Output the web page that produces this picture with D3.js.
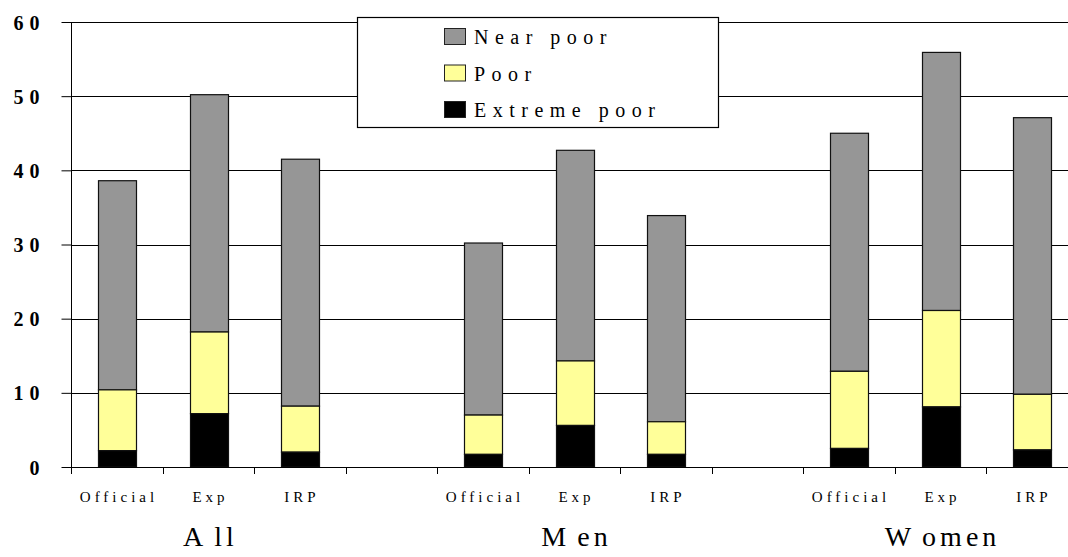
<!DOCTYPE html>
<html><head><meta charset="utf-8">
<script src="https://cdn.jsdelivr.net/npm/d3@7"></script>
<style>body{margin:0;background:#fff}svg{display:block}</style>
</head><body><svg id="c" width="1068" height="557" style="font-family:'Liberation Serif','Times New Roman',Tinos,'DejaVu Serif',serif"></svg>
<script>
const slots = ["All|Official","All|Exp","All|IRP","gap1","Men|Official","Men|Exp","Men|IRP","gap2","Women|Official","Women|Exp","Women|IRP"];
const categories = ["All|Official","All|Exp","All|IRP","Men|Official","Men|Exp","Men|IRP","Women|Official","Women|Exp","Women|IRP"];
const catLabels = ["Official","Exp","IRP","Official","Exp","IRP","Official","Exp","IRP"];
const groups = ["All","Men","Women"];
const extremePoor = [2.2, 7.2, 2.0, 1.7, 5.6, 1.7, 2.5, 8.1, 2.3];
const poorTotal   = [10.4, 18.2, 8.2, 7.0, 14.3, 6.1, 12.9, 21.1, 9.8];
const nearPoorTotal = [38.6, 50.2, 41.5, 30.2, 42.7, 33.9, 45.0, 55.9, 47.1];
const yTicks = [0,10,20,30,40,50,60];
const seriesNames = ["Near poor","Poor","Extreme poor"];
const colors = {"Near poor":"#969696","Poor":"#FFFF99","Extreme poor":"#000000"};
const FONT = "Liberation Serif, Times New Roman, serif";

const svg = d3.select("#c");
const x0 = 71.25, slotW = 91.5;
const x = d3.scaleBand().domain(slots).range([x0, x0 + slotW*slots.length]).paddingInner(0).paddingOuter(0);
const y = d3.scaleLinear().domain([0,60]).range([467,22]);
const barW = 38;

// gridlines
svg.append("g").selectAll("line").data(yTicks.filter(d=>d>0)).join("line")
  .attr("x1", x0).attr("x2", 1068).attr("y1", d=>Math.round(y(d))+0.5).attr("y2", d=>Math.round(y(d))+0.5)
  .attr("stroke","#000").attr("stroke-width",1);

// y axis
const yAxis = d3.axisLeft(y).tickValues(yTicks).tickSize(10).tickFormat(d=>d);
const ga = svg.append("g").attr("transform",`translate(${Math.round(x0)+0.5},0)`).call(yAxis);
ga.attr("font-family", FONT).attr("font-size", 20);
ga.select(".domain").attr("stroke","#000").attr("d",`M0,${y(60)}V${y(0)}`);
ga.selectAll(".tick line").attr("stroke","#000");
ga.selectAll(".tick text").attr("x",-26).attr("dy","0.35em").attr("font-weight","bold")
  .attr("letter-spacing","6px").attr("fill","#000");

// bars
const stacks = categories.map((c,i)=>({c, segs:[
  {name:"Near poor", y0: poorTotal[i], y1: nearPoorTotal[i]},
  {name:"Poor", y0: extremePoor[i], y1: poorTotal[i]},
  {name:"Extreme poor", y0: 0, y1: extremePoor[i]}
]}));
const bg = svg.append("g");
stacks.forEach(s=>{
  const cx = x(s.c) + x.bandwidth()/2;
  bg.selectAll(null).data(s.segs).join("rect")
    .attr("x", Math.round(cx - barW/2)+0.5).attr("width", barW)
    .attr("y", d=>y(d.y1)).attr("height", d=>y(d.y0)-y(d.y1))
    .attr("fill", d=>colors[d.name]).attr("stroke","#111").attr("stroke-width",1.2);
});

// x axis baseline and ticks
svg.append("line").attr("x1",x0).attr("x2",1068).attr("y1",467.5).attr("y2",467.5).attr("stroke","#000");
const bounds = d3.range(slots.length+1).map(i=>x0 + i*slotW).filter(v=>v<=1068);
svg.append("g").selectAll("line").data(bounds).join("line")
  .attr("x1",d=>Math.round(d)+0.5).attr("x2",d=>Math.round(d)+0.5).attr("y1",467).attr("y2",474).attr("stroke","#000");

// category labels
const catLS = 4;
svg.append("g").attr("font-family",FONT).selectAll("text").data(categories).join("text")
  .attr("x",(d)=>x(d)+x.bandwidth()/2 + catLS/2).attr("y",502).attr("text-anchor","middle")
  .attr("font-size",15).attr("letter-spacing",catLS+"px").text((d,i)=>catLabels[i]);

// group labels (capital followed by a wider gap, as in the reference)
const gt = svg.append("g").attr("font-family",FONT).selectAll("text").data(groups).join("text")
  .attr("x",g=>x(g+"|Exp")+x.bandwidth()/2 + 2).attr("y",546).attr("text-anchor","middle")
  .attr("font-size",28);
gt.append("tspan").attr("letter-spacing","11px").text(d=>d[0]);
gt.append("tspan").attr("letter-spacing","4px").text(d=>d.slice(1));

// legend
const lg = svg.append("g").attr("font-family",FONT);
lg.append("rect").attr("x",357.5).attr("y",17.5).attr("width",361).attr("height",110).attr("fill","#fff").attr("stroke","#000").attr("stroke-width",1.2);
seriesNames.forEach((n,i)=>{
  const cy = 37 + i*36.5;
  lg.append("rect").attr("x",444.5).attr("y",cy-8.5).attr("width",21).attr("height",16).attr("fill",colors[n]).attr("stroke","#222");
  lg.append("text").attr("x",474).attr("y",cy+7).attr("font-size",20).attr("letter-spacing","6.5px").text(n);
});
</script></body></html>
